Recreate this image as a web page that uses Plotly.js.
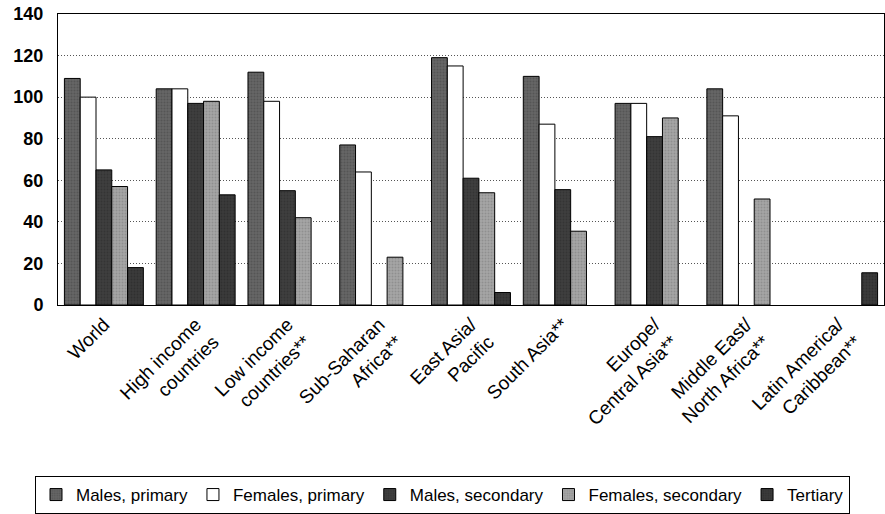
<!DOCTYPE html>
<html>
<head>
<meta charset="utf-8">
<script src="https://cdn.plot.ly/plotly-3.0.1.min.js"></script>
<style>html,body{margin:0;padding:0;background:#fff;}#chart{width:885px;height:514px;}</style>
</head>
<body>
<div id="chart"></div>
<script>
var categories = ["World", "High income<br>countries", "Low income<br>countries**", "Sub-Saharan<br>Africa**", "East Asia/<br>Pacific", "South Asia**", "Europe/<br>Central Asia**", "Middle East/<br>North Africa**", "Latin America/<br>Caribbean**"];
var malesPrimary     = [109, 104, 112, 77, 119, 110, 97, 104, null];
var femalesPrimary   = [100, 104, 98, 64, 115, 87, 97, 91, null];
var malesSecondary   = [65, 97, 55, null, 61, 55.5, 81, null, null];
var femalesSecondary = [57, 98, 42, 23, 54, 35.5, 90, 51, null];
var tertiary         = [18, 53, null, null, 6, null, null, null, 15.5];
var seriesNames = ["Males, primary", "Females, primary", "Males, secondary", "Females, secondary", "Tertiary"];

var styles = [
  {color: "#666666", pattern: {shape: ".", fillmode: "overlay", fgcolor: "#444444", size: 3, solidity: 0.35}},
  {color: "#ffffff", pattern: {shape: ""}},
  {color: "#3e3e3e", pattern: {shape: ".", fillmode: "overlay", fgcolor: "#2a2a2a", size: 3, solidity: 0.3}},
  {color: "#a6a6a6", pattern: {shape: ".", fillmode: "overlay", fgcolor: "#777777", size: 3, solidity: 0.35}},
  {color: "#3a3a3a", pattern: {shape: ".", fillmode: "overlay", fgcolor: "#262626", size: 3, solidity: 0.3}}
];
var values = [malesPrimary, femalesPrimary, malesSecondary, femalesSecondary, tertiary];

var data = values.map(function(v, i) {
  return {
    type: "bar",
    name: seriesNames[i],
    x: categories,
    y: v,
    marker: {color: styles[i].color, pattern: styles[i].pattern, line: {color: "#000", width: 1}},
    hoverinfo: "skip"
  };
});

var layout = {
  width: 885, height: 514,
  margin: {l: 58, r: 1, t: 14, b: 209},
  paper_bgcolor: "#fff", plot_bgcolor: "#fff",
  barmode: "group",
  bargap: 0.14,
  bargroupgap: 0,
  font: {family: "Liberation Sans, Arial, sans-serif", color: "#000"},
  xaxis: {
    automargin: false,
    showline: true, linecolor: "#000", linewidth: 1, mirror: true,
    tickangle: -45, tickfont: {size: 19, family: "Liberation Sans, Arial, sans-serif"},
    ticks: "", showgrid: false
  },
  yaxis: {
    automargin: false,
    range: [0, 140], tickvals: [0, 20, 40, 60, 80, 100, 120, 140],
    showline: true, linecolor: "#000", linewidth: 1, mirror: true,
    showgrid: true, gridcolor: "#555", griddash: "1px,2px", gridwidth: 1,
    tickfont: {size: 18, family: "Liberation Sans, Arial, sans-serif", weight: "bold"},
    ticks: "", ticklabelstandoff: 10, zeroline: false
  },
  showlegend: true,
  legend: {
    orientation: "h", x: 0.5, xanchor: "center", xref: "container",
    y: (514 - 476) / 514, yanchor: "top", yref: "container",
    bordercolor: "#000", borderwidth: 1, font: {size: 17},
    itemwidth: 30, tracegroupgap: 0, traceorder: "normal"
  }
};

Plotly.newPlot("chart", data, layout, {staticPlot: true});
</script>
</body>
</html>
